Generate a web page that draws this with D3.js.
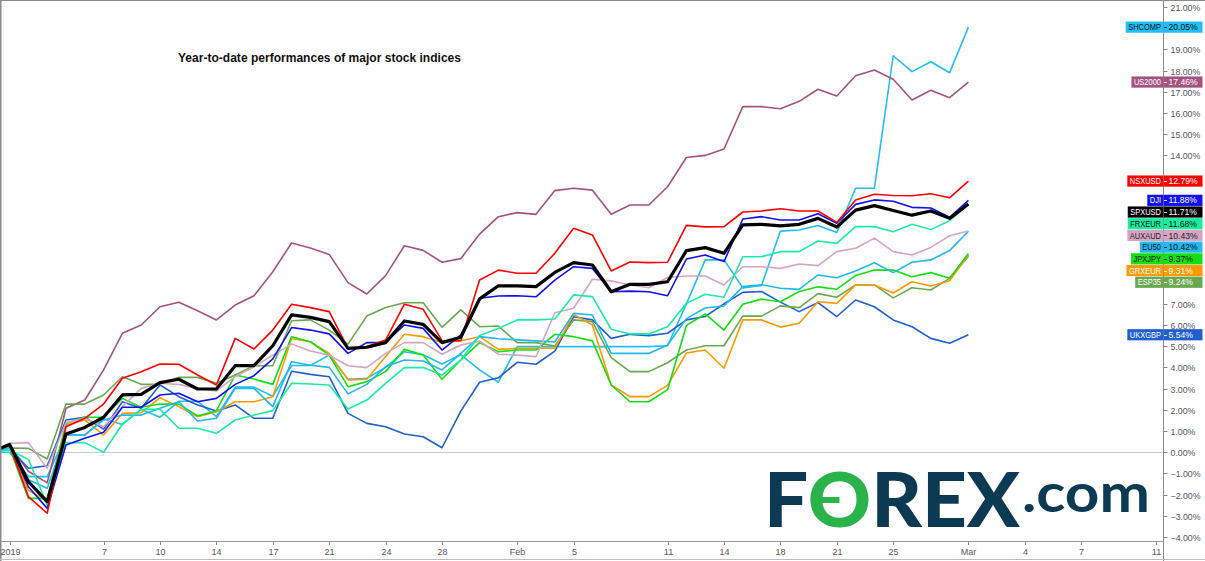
<!DOCTYPE html>
<html><head><meta charset="utf-8">
<script src="https://cdn.jsdelivr.net/npm/d3@7"></script>
<style>body{margin:0;background:#fff;} svg{display:block;}</style>
</head><body>
<svg id="chart" width="1205" height="561"></svg>
<script>
// ---------- data ----------
// bar index 0 = 31 Dec 2018 baseline, 1 = 1 Jan 2019 ... 52 = 1 Mar 2019 (daily CFD bars incl. Sundays)
const xTickIndex  = [1, 6, 9, 12, 15, 18, 21, 24, 28, 31, 36, 39, 42, 45, 48, 52, 55, 58, 62];
const xTickLabels = ["2019","7","10","14","17","21","24","28","Feb","5","11","14","18","21","25","Mar","4","7","11"];
const yTickValues = [-4,-3,-2,-1,0,1,2,3,4,5,6,7,8,9,10,11,12,13,14,15,16,17,18,19,20,21];

const seriesNames  = ["SHCOMP","US2000","UKXGBP","ESP35","GRXEUR","JPXJPY","EU50","AUXAUD","FRXEUR","DJI","NSXUSD","SPXUSD"];
const seriesColors = ["#1ec0f7","#a4527f","#1f5fcf","#6aa84f","#ff9a00","#12e012","#22b8f2","#d5a6c4","#19eea0","#1010f0","#ff0000","#000000"];
const labelTextColors = ["#111","#fff","#fff","#fff","#fff","#111","#111","#222","#111","#fff","#fff","#fff"];

const shcomp = [0,0,-1.15,-1.15,0.81,0.81,1.57,1.31,2.02,1.65,2.40,2.40,1.68,3.07,3.07,2.64,4.09,4.09,4.58,3.44,3.49,4.00,4.74,4.60,4.16,4.60,3.88,3.30,4.98,4.98,4.98,4.98,4.98,4.98,4.98,4.98,5.02,7.00,9.07,9.07,7.75,7.87,10.43,10.48,10.69,10.36,12.45,12.45,18.70,17.95,18.42,17.90,20.05];
const us2000 = [0,0.30,-0.90,-1.45,2.07,2.46,3.88,5.61,6.00,6.86,7.07,6.67,6.24,6.94,7.38,8.51,9.87,9.63,9.33,8.00,7.46,8.33,9.74,9.52,8.96,9.13,10.29,11.11,11.30,11.22,12.34,12.45,12.36,11.22,11.66,11.66,12.52,13.90,14.00,14.30,16.30,16.30,16.20,16.55,17.12,16.80,17.76,18.03,17.59,16.61,17.07,16.72,17.46];
const ukxgbp = [0,0.20,-0.76,-0.64,1.52,1.65,1.09,2.38,2.07,3.17,2.62,2.23,1.94,2.23,1.60,1.60,3.82,3.67,3.56,1.83,1.36,1.20,0.86,0.73,0.21,1.94,3.30,3.51,4.24,4.15,4.77,6.39,6.24,5.37,5.56,5.50,5.61,6.24,6.40,7.00,7.54,7.58,7.08,6.63,7.06,6.40,7.18,6.86,6.24,5.92,5.37,5.14,5.54];
const esp35  = [0,0.20,0.18,-0.32,2.27,2.27,2.70,3.56,3.20,3.20,3.53,3.53,3.25,3.64,4.08,4.08,6.20,6.24,5.76,5.10,6.42,6.83,7.05,7.05,5.89,6.71,5.92,5.95,5.17,5.17,5.01,6.24,6.16,4.46,3.80,3.80,4.22,4.82,5.02,5.02,6.42,6.42,6.90,6.82,7.48,7.31,7.89,7.89,7.28,7.76,7.65,8.20,9.24];
const grxeur = [0,0.25,-1.80,-2.30,1.28,1.52,0.81,1.83,1.86,2.57,2.15,1.67,1.91,2.38,2.38,2.62,5.37,5.21,4.66,3.41,3.44,4.51,5.56,5.45,5.17,5.26,5.45,4.85,4.90,4.90,4.90,6.50,6.00,3.17,2.62,2.62,3.15,4.68,4.82,3.96,6.24,6.24,5.90,6.08,7.10,7.02,7.89,7.89,7.51,8.04,7.84,8.09,9.31];
const jpxjpy = [0,0.20,-2.18,-2.18,1.36,1.65,1.65,2.54,2.12,2.27,2.27,1.71,1.96,3.64,3.45,3.20,5.45,5.21,4.58,3.09,3.33,3.80,4.85,4.58,3.44,4.35,5.17,4.74,4.82,4.82,5.56,5.45,5.25,3.17,2.38,2.38,2.95,5.98,6.52,5.76,6.98,7.22,7.10,7.58,7.80,7.69,8.33,8.59,8.59,8.28,8.47,8.21,9.37];
const eu50   = [0,0.20,-1.30,-1.70,0.81,0.81,1.52,1.75,1.75,2.07,2.38,1.47,1.60,3.01,3.01,2.15,4.27,4.10,4.00,2.75,3.20,4.03,4.35,4.30,3.88,4.66,5.45,5.35,5.30,5.25,5.20,6.55,6.47,4.66,4.66,4.66,5.06,6.30,6.80,6.90,7.81,7.90,7.73,7.68,8.36,8.23,8.55,8.94,8.47,8.96,9.07,9.51,10.42];
const auxaud = [0,0.42,0.45,-0.76,1.39,1.60,1.20,2.15,3.01,3.25,3.20,3.01,2.89,3.56,4.03,4.58,5.10,4.77,4.58,4.08,3.99,4.66,5.17,5.17,4.62,5.06,5.24,4.62,4.58,4.51,6.58,6.79,8.16,8.08,7.89,7.76,8.24,8.31,8.31,7.89,8.75,8.75,8.67,8.88,8.80,9.46,9.62,10.10,9.46,9.30,9.66,10.21,10.43];
const frxeur = [0,0.10,-0.34,-2.49,0.45,0.45,0.00,1.33,2.02,2.02,1.13,1.13,0.89,1.52,1.75,1.96,3.25,3.22,3.17,2.04,2.46,3.25,3.99,3.99,3.64,4.35,5.50,5.84,6.24,6.24,6.28,7.42,7.34,5.80,5.58,5.58,5.92,7.02,7.45,7.31,9.22,9.22,9.46,9.46,9.96,9.85,10.64,10.64,10.40,10.75,10.50,10.92,11.68];
const dji    = [0,0.34,-1.63,-2.65,0.34,0.66,0.94,2.12,2.12,2.70,2.78,2.38,2.54,3.20,3.61,4.40,5.88,5.76,5.58,4.66,5.17,5.18,6.00,5.84,4.82,5.53,7.26,7.37,7.38,7.33,8.12,8.75,8.67,7.57,7.60,7.57,7.38,9.11,9.30,8.99,11.00,11.11,10.95,10.95,11.25,10.80,11.69,11.90,11.84,11.55,11.52,11.08,11.88];
const nsxusd = [0,0.34,-2.10,-2.88,1.20,1.60,2.27,3.49,3.80,4.16,4.15,3.64,3.17,5.37,4.87,5.76,6.98,6.82,6.63,4.90,4.98,5.29,6.98,6.74,5.26,5.26,8.12,8.59,8.44,8.44,9.38,10.56,10.25,8.55,8.97,8.94,8.96,10.70,10.63,10.64,11.33,11.38,11.48,11.38,11.38,10.84,11.90,12.17,12.11,12.10,12.19,12.00,12.79];
const spxusd = [0,0.37,-1.39,-2.33,0.86,1.17,1.65,2.70,2.73,3.28,3.44,2.98,2.98,4.08,4.08,5.02,6.48,6.36,6.16,4.90,4.95,5.17,6.19,6.03,5.17,5.42,7.23,7.85,7.85,7.81,8.48,8.94,8.83,7.57,7.92,7.92,8.04,9.51,9.65,9.38,10.72,10.75,10.68,10.75,11.03,10.62,11.42,11.63,11.40,11.18,11.38,11.03,11.71];

const seriesValues = [shcomp, us2000, ukxgbp, esp35, grxeur, jpxjpy, eu50, auxaud, frxeur, dji, nsxusd, spxusd];

// ---------- layout ----------
const W = 1205, H = 561;
const axisX = 1163.5, axisY = 541.5;
const FONT = "Liberation Sans, Arial, sans-serif";
const svg = d3.select("#chart");

const x = d3.scaleLinear().domain([0, 62]).range([-9.2, 1156.4]);
const y = d3.scaleLinear().domain([-4, 21]).range([537, 7]);

svg.append("rect").attr("width", W).attr("height", H).attr("fill", "#fff");

svg.append("defs").append("clipPath").attr("id", "plotClip")
  .append("rect").attr("x", 1).attr("y", 1).attr("width", axisX - 1).attr("height", axisY - 1);

// zero line
svg.append("line").attr("x1", 0).attr("x2", axisX).attr("y1", Math.round(y(0)) + 0.5).attr("y2", Math.round(y(0)) + 0.5)
  .attr("stroke", "#c9c9d3").attr("stroke-width", 1);

// title
svg.append("text").attr("x", 178).attr("y", 62)
  .attr("font-family", FONT).attr("font-weight", "bold").attr("font-size", 12.5)
  .attr("textLength", 283).attr("lengthAdjust", "spacingAndGlyphs").attr("fill", "#111")
  .text("Year-to-date performances of major stock indices");

// logo
const logo = svg.append("g").attr("font-family", "Lato, 'Open Sans', sans-serif").attr("font-weight", 900);
const logoMain = logo.append("text").attr("x", 764).attr("y", 527).attr("font-size", 76).attr("fill", "#0c3a52")
  .attr("textLength", 256).attr("lengthAdjust", "spacingAndGlyphs")
  .html('F<tspan fill="#2bb34b">O</tspan>REX');
logo.append("text").attr("x", 1022).attr("y", 512).attr("font-size", 54).attr("fill", "#0c3a52")
  .attr("font-weight", 700).attr("textLength", 128).attr("lengthAdjust", "spacingAndGlyphs").text(".com");
try {
  const ext = logoMain.node().getExtentOfChar(1);
  const cx = ext.x + ext.width / 2;
  logo.append("rect").attr("x", ext.x + ext.width * 0.18).attr("y", 497).attr("width", cx - (ext.x + ext.width * 0.18))
    .attr("height", 6).attr("fill", "#2bb34b");
} catch (e) {}

// lines
const line = d3.line().x((d, i) => x(i)).y(d => y(d));
const plot = svg.append("g").attr("clip-path", "url(#plotClip)");
seriesValues.forEach((vals, k) => {
  plot.append("path").datum(vals)
    .attr("fill", "none")
    .attr("stroke", seriesColors[k])
    .attr("stroke-width", seriesNames[k] === "SPXUSD" ? 3.2 : 1.6)
    .attr("stroke-linejoin", "round")
    .attr("d", line);
});

// frame lines
svg.append("line").attr("x1", 0).attr("x2", axisX).attr("y1", axisY).attr("y2", axisY).attr("stroke", "#9a9a9a");
svg.append("line").attr("x1", axisX).attr("x2", axisX).attr("y1", 0).attr("y2", H).attr("stroke", "#8a8a8a");
svg.append("line").attr("x1", 0).attr("x2", W).attr("y1", 0.5).attr("y2", 0.5).attr("stroke", "#8a8a8a");
svg.append("line").attr("x1", 0.75).attr("x2", 0.75).attr("y1", 0).attr("y2", H).attr("stroke", "#8a8a8a").attr("stroke-width", 1.5);
svg.append("line").attr("x1", 0).attr("x2", W).attr("y1", 559.5).attr("y2", 559.5).attr("stroke", "#bdbdbd");

// x axis ticks
const xg = svg.append("g").attr("font-family", FONT).attr("font-size", 9).attr("fill", "#555");
xTickIndex.forEach((idx, j) => {
  const px = Math.round(x(idx)) + 0.5;
  xg.append("line").attr("x1", px).attr("x2", px).attr("y1", axisY).attr("y2", axisY + 3.5).attr("stroke", "#888");
  xg.append("text").attr("x", px).attr("y", 555).attr("text-anchor", "middle").text(xTickLabels[j]);
});

// last-value label positions (stacked so they do not collide)
const lastItems = seriesNames.map((n, k) => ({ name: n, k, v: seriesValues[k][seriesValues[k].length - 1] }))
  .sort((a, b) => b.v - a.v);
const gap = 11.7;
let prev = -Infinity;
lastItems.forEach(it => {
  let cy = y(it.v);
  if (cy < prev + gap) cy = prev + gap;
  it.cy = cy; prev = cy;
});

// y axis ticks (labels hidden where a value label covers them)
const yg = svg.append("g").attr("font-family", FONT).attr("font-size", 8.8).attr("fill", "#555");
const fmt = v => (v < 0 ? "\u2212" : "") + Math.abs(v).toFixed(2) + "%";
yTickValues.forEach(v => {
  const py = Math.round(y(v)) + 0.5;
  yg.append("line").attr("x1", axisX).attr("x2", axisX + 4).attr("y1", py).attr("y2", py).attr("stroke", "#888");
  const covered = lastItems.some(it => Math.abs(it.cy - py) < 9.2);
  if (!covered) yg.append("text").attr("x", axisX + 7).attr("y", py + 3.1).text(fmt(v));
});

const lg = svg.append("g").attr("font-family", FONT).attr("font-size", 8.6);
lastItems.forEach(it => {
  const g = lg.append("g");
  const t = g.append("text").attr("y", it.cy + 3.1).attr("fill", labelTextColors[it.k]).text(it.name);
  const tw = t.node().getComputedTextLength() * 0.87;
  t.attr("textLength", tw).attr("lengthAdjust", "spacingAndGlyphs");
  const bw = tw + 5;
  g.insert("rect", "text").attr("x", axisX - bw).attr("y", it.cy - 5.6).attr("width", bw).attr("height", 11.2)
    .attr("fill", seriesColors[it.k]);
  t.attr("x", axisX - bw + 2.5);
  g.append("rect").attr("x", axisX + 0.5).attr("y", it.cy - 5.6).attr("width", 38.5).attr("height", 11.2)
    .attr("fill", seriesColors[it.k]);
  g.append("line").attr("x1", axisX + 0.5).attr("x2", axisX + 3.5).attr("y1", Math.round(it.cy) + 0.5).attr("y2", Math.round(it.cy) + 0.5)
    .attr("stroke", labelTextColors[it.k]).attr("stroke-width", 0.8);
  g.append("text").attr("x", axisX + 5).attr("y", it.cy + 3.1).attr("fill", labelTextColors[it.k])
    .text(it.v.toFixed(2) + "%");
});
</script>
</body></html>
